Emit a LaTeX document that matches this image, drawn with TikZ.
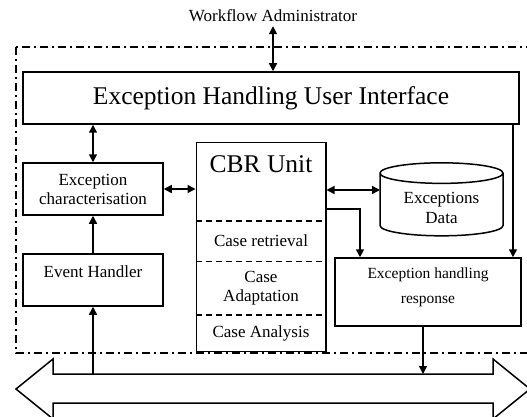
\documentclass[tikz,border=0pt]{standalone}
\usepackage{fontspec}
\setmainfont{Liberation Serif}
\usetikzlibrary{positioning,shapes.geometric,arrows.meta,fit}

\begin{document}
\begin{tikzpicture}[x=1pt,y=-1pt,line width=1.5pt,% 1 unit = 1 pixel of the drawing
        box/.style={draw,rectangle,align=center,inner sep=2pt,font=\fontsize{17}{19}\selectfont},
        part/.style={rectangle,minimum width=128pt,inner sep=0pt,align=center,font=\fontsize{17}{19}\selectfont},
        big/.style={font=\fontsize{25.5}{28}\selectfont},
        arr/.style={-{Triangle[length=8pt,width=8pt]}},
        both/.style={{Triangle[length=8pt,width=8pt]}-{Triangle[length=8pt,width=8pt]}},
        frame/.style={dash pattern=on 8pt off 4pt on 2pt off 4pt},
        sep/.style={dash pattern=on 6pt off 4pt}]
\useasboundingbox (0,0) rectangle (527,417);
\clip (0,0) rectangle (527,417);

\draw[frame] (16,47) rectangle (545,353); % system boundary

\node[font=\fontsize{17}{19}\selectfont] (wf) at (273,16) {Workflow Administrator};
\node[box,big,minimum width=496pt,minimum height=52pt] (ui) at (271,98) {Exception Handling User Interface};
\node[box,minimum width=140pt,minimum height=52pt] (exchar) at (93,189) {Exception\\characterisation};
\node[box,minimum width=140pt,minimum height=52pt,text depth=16pt] (evh) at (93,280) {Event Handler};

% CBR unit, stacked parts
\node[part,minimum height=77pt] (cbrhead) at (261,181.5) {};
\node[part,minimum height=39pt,below=0pt of cbrhead] (retr) {Case retrieval};
\node[part,minimum height=52pt,below=0pt of retr] (adapt) {Case\\Adaptation};
\node[part,minimum height=35pt,below=0pt of adapt] (anal) {Case Analysis};
\node[draw,fit=(cbrhead)(anal),inner sep=0pt] (cbr) {};
\node[big,below=9pt of cbrhead.north] (cbrtitle) {CBR Unit};
\foreach \s in {retr,adapt,anal}{
\draw[sep] (\s.north west) -- (\s.north east);
}

\node[draw,cylinder,shape border rotate=90,aspect=0.25,minimum width=123pt,minimum height=73pt,
        align=center,font=\fontsize{17}{20}\selectfont] (data) at (441.5,206.5) {\phantom{Exceptions}\\\phantom{Data}};
\node[align=center,font=\fontsize{17}{20}\selectfont] (datatext) at ([yshift=-1pt]data.center) {Exceptions\\Data};
\node[box,minimum width=186pt,minimum height=68pt,text depth=13pt,font=\fontsize{15.5}{25}\selectfont] (ehr) at (428,292) {Exception handling\\response};

% bus
\draw (16,389) -- (53,359) -- (53,374) -- (493,374) -- (493,359) -- (530,389)
        -- (493,419) -- (493,403) -- (53,403) -- (53,419) -- cycle;
\coordinate (busN) at (271,374);

% connectors
\draw[both] (wf.south) -- (ui.north -| wf.south);
\draw[both] (ui.south -| exchar.north) -- (exchar.north);
\draw[arr] (evh.north) -- (exchar.south);
\draw[both] (exchar.east) -- (exchar.east -| cbr.west);
\coordinate (dw) at (380,190);
\draw[both] (dw -| cbr.east) -- (dw);
\coordinate (split) at (360,209);
\draw[arr] (split -| cbr.east) -- (split) -- (split |- ehr.north);
\path ([xshift=85pt]ehr.north) coordinate (ehrin);
\draw[arr] (ehrin |- ui.south) -- (ehrin);
\path ([xshift=-5pt]ehr.south) coordinate (ehrout);
\draw[arr] (ehrout) -- (ehrout |- busN);
\draw[arr] (evh.south |- busN) -- (evh.south);

\end{tikzpicture}
\end{document}
